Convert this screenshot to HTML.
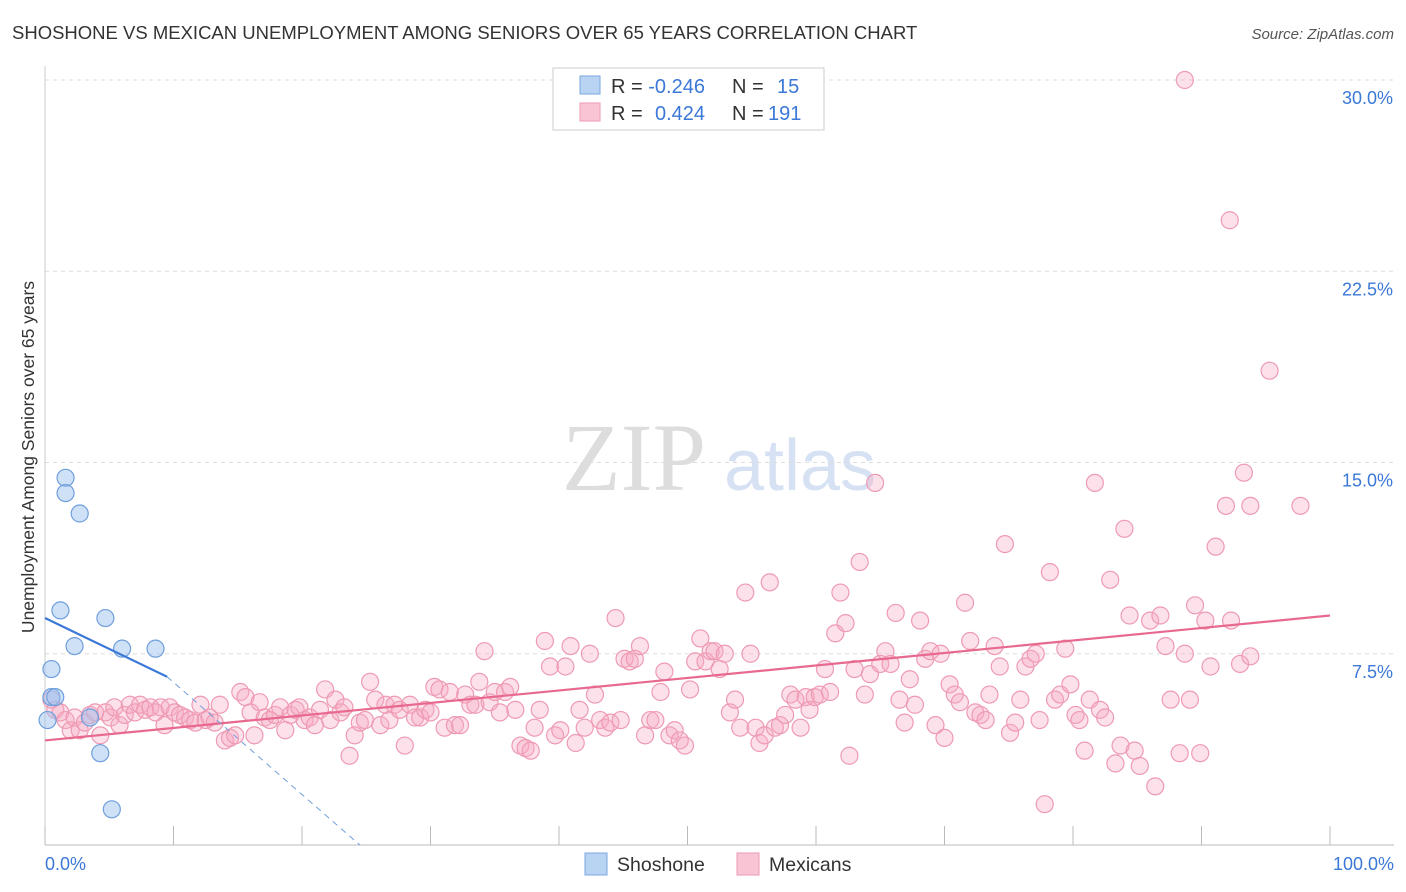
<!DOCTYPE html>
<html><head><meta charset="utf-8"><style>
body{margin:0;background:#fff;font-family:"Liberation Sans",sans-serif;}
#wrap{position:relative;width:1406px;height:892px;overflow:hidden;}
</style></head><body>
<div id="wrap">
<svg id="svg" width="1406" height="892" xmlns="http://www.w3.org/2000/svg">
<text x="12" y="39" font-size="18.5" fill="#333">SHOSHONE VS MEXICAN UNEMPLOYMENT AMONG SENIORS OVER 65 YEARS CORRELATION CHART</text>
<text x="1394" y="39" font-size="15" fill="#555" font-style="italic" text-anchor="end">Source: ZipAtlas.com</text>
<text x="634" y="490" font-size="96" fill="#ddd" font-family="Liberation Serif,serif" text-anchor="middle">ZIP</text>
<text x="800" y="490" font-size="72" fill="#d6e2f3" text-anchor="middle">atlas</text>
<text transform="translate(34,457) rotate(-90)" font-size="17.5" fill="#333" text-anchor="middle">Unemployment Among Seniors over 65 years</text>
<g id="grid"></g><g id="pts"></g><g id="lines"></g>
<g>
<rect x="553" y="68" width="271" height="62" fill="#fff" stroke="#ccc"/>
<rect x="580" y="76" width="20" height="18" fill="#b9d3f3" stroke="#7aa7e0"/>
<rect x="580" y="103" width="20" height="18" fill="#f9c5d4" stroke="#ee9ab3"/>
<text x="611" y="93" font-size="20" fill="#333">R = <tspan fill="#3b78d8">-0.246</tspan><tspan x="732">N = </tspan><tspan x="777" fill="#3b78d8">15</tspan></text>
<text x="611" y="120" font-size="20" fill="#333">R = <tspan x="655" fill="#3b78d8">0.424</tspan><tspan x="732">N = </tspan><tspan x="768" fill="#3b78d8">191</tspan></text>
</g>
<g>
<rect x="585" y="853" width="22" height="22" fill="#b9d3f3" stroke="#7aa7e0"/>
<text x="617" y="871" font-size="19.5" fill="#333">Shoshone</text>
<rect x="737" y="853" width="22" height="22" fill="#f9c5d4" stroke="#ee9ab3"/>
<text x="769" y="871" font-size="19.5" fill="#333">Mexicans</text>
</g>
<text x="45" y="870" font-size="18" fill="#3b78d8">0.0%</text>
<text x="1394" y="870" font-size="18" fill="#3b78d8" text-anchor="end">100.0%</text>
</svg></div>
<script>
const yTicks=[7.5,15,22.5,30];
const yTickLabels=["7.5%","15.0%","22.5%","30.0%"];
const xTicks=[0,10,20,30,40,50,60,70,80,90,100];
const shoshone=[[0.2,4.9],[0.5,5.8],[0.5,6.9],[0.8,5.8],[1.2,9.2],[1.6,14.4],[1.6,13.8],[2.3,7.8],[2.7,13.0],[3.5,5.0],[4.3,3.6],[4.7,8.9],[5.2,1.4],[6.0,7.7],[8.6,7.7]];
const mexicans=[[0.5,5.7],[0.8,5.3],[1.2,5.2],[1.6,4.9],[2.0,4.5],[2.3,5.0],[2.7,4.5],[3.1,4.8],[3.5,5.1],[3.9,5.2],[4.3,4.3],[4.7,5.2],[5.1,5.0],[5.4,5.4],[5.8,4.7],[6.2,5.1],[6.6,5.5],[7.0,5.2],[7.4,5.5],[7.8,5.3],[8.2,5.4],[8.6,5.2],[9.0,5.4],[9.3,4.7],[9.7,5.4],[10.1,5.2],[10.5,5.1],[10.9,5.0],[11.3,4.9],[11.7,4.8],[12.1,5.5],[12.5,4.9],[12.8,5.0],[13.2,4.8],[13.6,5.5],[14.0,4.1],[14.4,4.2],[14.8,4.3],[15.2,6.0],[15.6,5.8],[16.0,5.2],[16.3,4.3],[16.7,5.6],[17.1,5.0],[17.5,4.9],[17.9,5.1],[18.3,5.4],[18.7,4.5],[19.1,5.1],[19.5,5.3],[19.8,5.4],[20.2,4.9],[20.6,5.0],[21.0,4.7],[21.4,5.3],[21.8,6.1],[22.2,4.9],[22.6,5.7],[23.0,5.2],[23.3,5.4],[23.7,3.5],[24.1,4.3],[24.5,4.8],[24.9,4.9],[25.3,6.4],[25.7,5.7],[26.1,4.7],[26.5,5.5],[26.8,4.9],[27.2,5.5],[27.6,5.3],[28.0,3.9],[28.4,5.5],[28.8,5.0],[29.2,5.0],[29.6,5.3],[30.0,5.2],[30.3,6.2],[30.7,6.1],[31.1,4.6],[31.5,6.0],[31.9,4.7],[32.3,4.7],[32.7,5.9],[33.1,5.5],[33.5,5.5],[33.8,6.4],[34.2,7.6],[34.6,5.6],[35.0,6.0],[35.4,5.2],[35.8,6.0],[36.2,6.2],[36.6,5.3],[37.0,3.9],[37.4,3.8],[37.8,3.7],[38.1,4.6],[38.5,5.3],[38.9,8.0],[39.3,7.0],[39.7,4.3],[40.1,4.5],[40.5,7.0],[40.9,7.8],[41.3,4.0],[41.6,5.3],[42.0,4.6],[42.4,7.5],[42.8,5.9],[43.2,4.9],[43.6,4.6],[44.0,4.8],[44.4,8.9],[44.8,4.9],[45.1,7.3],[45.5,7.2],[45.9,7.3],[46.3,7.8],[46.7,4.3],[47.1,4.9],[47.5,4.9],[47.9,6.0],[48.2,6.8],[48.6,4.3],[49.0,4.5],[49.4,4.1],[49.8,3.9],[50.2,6.1],[50.6,7.2],[51.0,8.1],[51.4,7.2],[51.8,7.6],[52.1,7.6],[52.5,6.9],[52.9,7.5],[53.3,5.2],[53.7,5.7],[54.1,4.6],[54.5,9.9],[54.9,7.5],[55.3,4.6],[55.6,4.0],[56.0,4.3],[56.4,10.3],[56.8,4.6],[57.2,4.7],[57.6,5.1],[58.0,5.9],[58.4,5.7],[58.8,4.6],[59.2,5.8],[59.5,5.3],[59.9,5.8],[60.3,5.9],[60.7,6.9],[61.1,6.0],[61.5,8.3],[61.9,9.9],[62.3,8.7],[62.6,3.5],[63.0,6.9],[63.4,11.1],[63.8,5.9],[64.2,6.7],[64.6,14.2],[65.0,7.1],[65.4,7.6],[65.8,7.1],[66.2,9.1],[66.5,5.7],[66.9,4.8],[67.3,6.5],[67.7,5.5],[68.1,8.8],[68.5,7.3],[68.9,7.6],[69.3,4.7],[69.7,7.5],[70.0,4.2],[70.4,6.3],[70.8,5.9],[71.2,5.6],[71.6,9.5],[72.0,8.0],[72.4,5.2],[72.8,5.1],[73.2,4.9],[73.5,5.9],[73.9,7.8],[74.3,7.0],[74.7,11.8],[75.1,4.4],[75.5,4.8],[75.9,5.7],[76.3,7.0],[76.7,7.3],[77.1,7.5],[77.4,4.9],[77.8,1.6],[78.2,10.7],[78.6,5.7],[79.0,5.9],[79.4,7.7],[79.8,6.3],[80.2,5.1],[80.5,4.9],[80.9,3.7],[81.3,5.7],[81.7,14.2],[82.1,5.3],[82.5,5.0],[82.9,10.4],[83.3,3.2],[83.7,3.9],[84.0,12.4],[84.4,9.0],[84.8,3.7],[85.2,3.1],[86.0,8.8],[86.4,2.3],[86.8,9.0],[87.2,7.8],[87.6,5.7],[88.7,30.0],[88.3,3.6],[88.7,7.5],[89.1,5.7],[89.5,9.4],[89.9,3.6],[90.3,8.8],[90.7,7.0],[91.1,11.7],[92.2,24.5],[91.9,13.3],[92.3,8.8],[93.3,14.6],[93.0,7.1],[93.8,13.3],[93.8,7.4],[95.3,18.6],[97.7,13.3]];
const shoTrend=[[0,8.9],[9.5,6.6]];
const shoTrendExt=[[9.5,6.6],[24.5,0]];
const mexTrend=[[0,4.1],[100,9.0]];
const X=v=>45+v*12.85, Y=v=>845-v*25.5;
const NS="http://www.w3.org/2000/svg";
function mk(t,a,p){const e=document.createElementNS(NS,t);for(const k in a)e.setAttribute(k,a[k]);document.getElementById(p).appendChild(e);return e;}
yTicks.forEach((t,i)=>{
 const l=mk('line',{x1:45,x2:1394,y1:Y(t),y2:Y(t),stroke:'#ddd','stroke-dasharray':'4,4'},'grid');
 
 
 const tx=mk('text',{x:1393,y:Y(t)+24,'font-size':18,fill:'#3b78d8','text-anchor':'end'},'grid');
 tx.textContent=yTickLabels[i];
 
 
});
const ax=mk('line',{x1:45,x2:1394,y1:845,y2:845,stroke:'#bbb'},'grid');


const ay=mk('line',{x1:45,x2:45,y1:66,y2:845,stroke:'#ccc'},'grid');


xTicks.forEach(t=>{
 const l=mk('line',{x1:X(t),x2:X(t),y1:826,y2:845,stroke:'#bbb'},'grid');
 
 
});
mexicans.forEach(p=>{
 const c=mk('circle',{cx:X(p[0]),cy:Y(p[1]),r:8.5,fill:'rgba(246,170,195,0.35)',stroke:'#ee9ab3','stroke-width':1.2},'pts');
 
 
});
shoshone.forEach(p=>{
 const c=mk('circle',{cx:X(p[0]),cy:Y(p[1]),r:8.5,fill:'rgba(160,195,240,0.5)',stroke:'#6f9fdc','stroke-width':1.2},'pts');
 
 
});
const l1=mk('line',{x1:X(mexTrend[0][0]),y1:Y(mexTrend[0][1]),x2:X(mexTrend[1][0]),y2:Y(mexTrend[1][1]),stroke:'#e8698f','stroke-width':2.2},'lines');


const l2=mk('line',{x1:X(shoTrend[0][0]),y1:Y(shoTrend[0][1]),x2:X(shoTrend[1][0]),y2:Y(shoTrend[1][1]),stroke:'#3b78d8','stroke-width':2.2},'lines');


const l3=mk('line',{x1:X(shoTrendExt[0][0]),y1:Y(shoTrendExt[0][1]),x2:X(shoTrendExt[1][0]),y2:Y(shoTrendExt[1][1]),stroke:'#6f9fdc','stroke-width':1,'stroke-dasharray':'6,5'},'lines');


</script>
</body></html>
